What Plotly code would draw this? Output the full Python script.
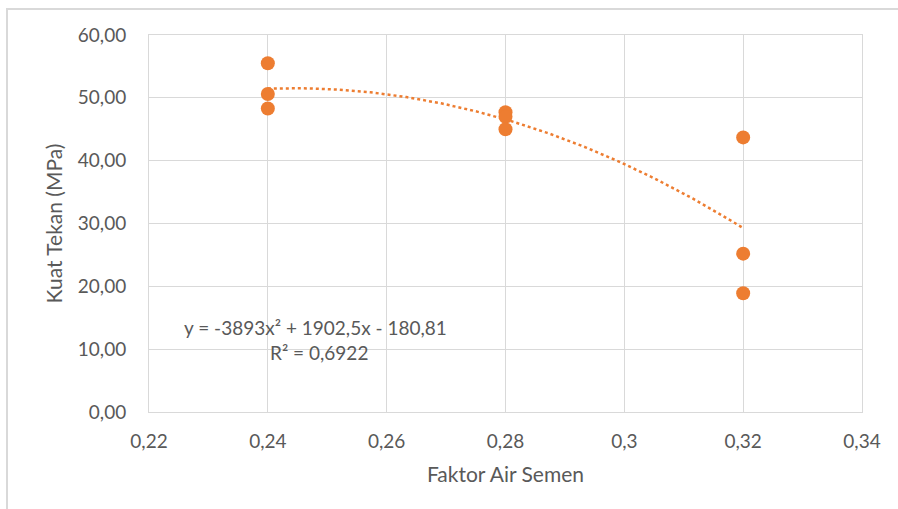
import numpy as np
import plotly.graph_objects as go

# Data
fas = [0.24, 0.24, 0.24, 0.28, 0.28, 0.28, 0.32, 0.32, 0.32]
kuat_tekan = [55.5, 50.6, 48.3, 47.7, 47.0, 45.0, 43.7, 25.2, 18.9]

x_ticks = [0.22, 0.24, 0.26, 0.28, 0.30, 0.32, 0.34]
x_ticktext = ["0,22", "0,24", "0,26", "0,28", "0,3", "0,32", "0,34"]
y_ticks = [0, 10, 20, 30, 40, 50, 60]
y_ticktext = ["0,00", "10,00", "20,00", "30,00", "40,00", "50,00", "60,00"]

eq_text = "y = -3893x² + 1902,5x - 180,81"
r2_text = "R² = 0,6922"

orange = "#ED7D31"
grid = "#D9D9D9"
txt = "#595959"
font_family = "Lato, 'Open Sans', sans-serif"

# Polynomial (order 2) trendline fitted to the data
coef = np.polyfit(fas, kuat_tekan, 2)
xt = np.linspace(min(fas), max(fas), 200)
yt = np.polyval(coef, xt)

fig = go.Figure()
fig.add_trace(go.Scatter(x=xt, y=yt, mode="lines",
                         line=dict(color=orange, width=2.5, dash="dot"),
                         hoverinfo="skip", showlegend=False))
fig.add_trace(go.Scatter(x=fas, y=kuat_tekan, mode="markers",
                         marker=dict(color=orange, size=14),
                         showlegend=False))

fig.add_annotation(x=0.2480, y=13.4, xref="x", yref="y", text=eq_text,
                   showarrow=False, font=dict(size=19, color=txt, family=font_family))
fig.add_annotation(x=0.2486, y=9.4, xref="x", yref="y", text=r2_text,
                   showarrow=False, font=dict(size=19, color=txt, family=font_family))

# outer chart border
fig.add_shape(type="rect", xref="paper", yref="paper",
              x0=(7 - 149) / 713, x1=(905 - 149) / 713,
              y0=(412 - 520) / 377, y1=(412 - 9) / 377,
              line=dict(color=grid, width=2), fillcolor="rgba(0,0,0,0)", layer="below")

fig.update_layout(
    width=898, height=509,
    margin=dict(l=149, r=36, t=35, b=97),
    paper_bgcolor="white", plot_bgcolor="white",
    font=dict(family=font_family, color=txt, size=16),
    xaxis=dict(range=[0.22, 0.34], tickvals=x_ticks, ticktext=x_ticktext,
               showgrid=True, gridcolor=grid, gridwidth=1, zeroline=False,
               showline=True, linecolor=grid, linewidth=1, mirror=True,
               ticks="outside", ticklen=12, tickcolor="rgba(0,0,0,0)",
               tickfont=dict(size=19, color=txt),
               title=dict(text="Faktor Air Semen", font=dict(size=21, color=txt), standoff=16)),
    yaxis=dict(range=[0, 60], tickvals=y_ticks, ticktext=y_ticktext,
               showgrid=True, gridcolor=grid, gridwidth=1, zeroline=False,
               showline=True, linecolor=grid, linewidth=1, mirror=True,
               ticks="outside", ticklen=18, tickcolor="rgba(0,0,0,0)",
               tickfont=dict(size=19, color=txt),
               title=dict(text="Kuat Tekan (MPa)", font=dict(size=21, color=txt), standoff=9)),
)

fig.write_html("out.html")
